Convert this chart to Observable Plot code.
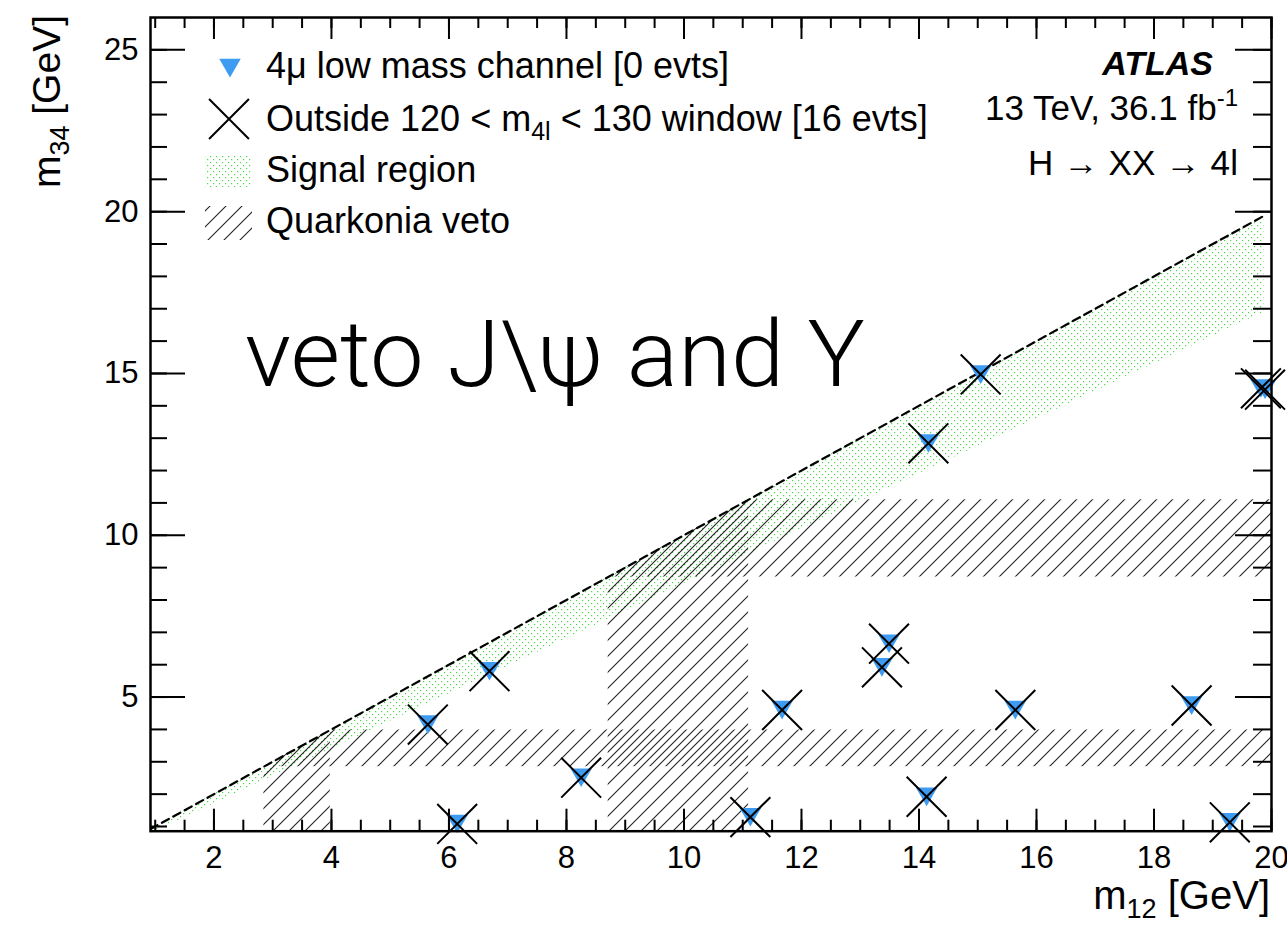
<!DOCTYPE html>
<html>
<head>
<meta charset="utf-8">
<script src="https://cdn.jsdelivr.net/npm/d3@7"></script>
<script src="https://cdn.jsdelivr.net/npm/@observablehq/plot@0.6"></script>
<style>
  html, body { margin: 0; padding: 0; background: #ffffff; }
  #chart { width: 1287px; height: 925px; }
</style>
</head>
<body>
<div id="chart"></div>
<script>
// ---------------- data ----------------
const eventM12 = [5.64, 6.14, 6.69, 8.25, 11.13, 11.67, 13.37, 13.49, 14.16, 14.13, 15.05, 15.64, 18.64, 19.29, 19.82, 19.89];
const eventM34 = [4.15, 1.08, 5.80, 2.51, 1.29, 4.60, 5.92, 6.65, 12.84, 1.92, 14.97, 4.60, 4.74, 1.13, 14.54, 14.50];
const jpsiVeto = [2.85, 3.98];          // GeV, applied to m12 and m34
const upsilonVeto = [8.71, 11.1];       // GeV, applied to m12 and m34
const signalRatio = 0.85;               // signal region: 0.85*m12 < m34 < m12
const signalEdgeM12 = [0.92, 19.87];    // extent of the signal-region histogram
const xMajorTicks = [2, 4, 6, 8, 10, 12, 14, 16, 18, 20];
const xMinorTicks = [1, 1.5, 2, 2.5, 3, 3.5, 4, 4.5, 5, 5.5, 6, 6.5, 7, 7.5, 8, 8.5, 9, 9.5, 10, 10.5, 11, 11.5, 12, 12.5, 13, 13.5, 14, 14.5, 15, 15.5, 16, 16.5, 17, 17.5, 18, 18.5, 19, 19.5, 20];
const yMajorTicks = [5, 10, 15, 20, 25];
const yMinorTicks = [1, 2, 3, 4, 5, 6, 7, 8, 9, 10, 11, 12, 13, 14, 15, 16, 17, 18, 19, 20, 21, 22, 23, 24, 25];
const xDomain = [0.92, 20];
const yDomain = [0.855, 26];

// ---------------- layout ----------------
const W = 1287, H = 925;
const mL = 150, mR = 16, mT = 17, mB = 94.3;
const iW = W - mL - mR, iH = H - mT - mB;
const FONT = "'Liberation Sans', Arial, Helvetica, sans-serif";
const BLUE = "#3d9cf2";

const events = eventM12.map((x, i) => ({m12: x, m34: eventM34[i]}));
const signal = signalEdgeM12.map(x => ({x, lo: signalRatio * x, hi: x}));
const diagonal = signalEdgeM12.map(v => ({x: v, y: v}));
const vBand = w => w.map(x => ({x, lo: yDomain[0], hi: x}));
const hBand = w => w.map(y => ({y, lo: y, hi: xDomain[1]}));

const tickStyle = {stroke: "#000", strokeWidth: 2};

const svgNode = Plot.plot({
  width: W, height: H,
  marginLeft: mL, marginRight: mR, marginTop: mT, marginBottom: mB,
  x: {domain: xDomain, axis: null, label: null},
  y: {domain: yDomain, axis: null, label: null},
  style: {fontFamily: FONT, fontSize: "31px", background: "#ffffff", color: "#000"},
  marks: [
    Plot.areaY(signal, {x: "x", y1: "lo", y2: "hi", fill: "url(#sigDots)", clip: true}),
    Plot.areaY(vBand(jpsiVeto), {x: "x", y1: "lo", y2: "hi", fill: "url(#hatchA)", clip: true}),
    Plot.areaY(vBand(upsilonVeto), {x: "x", y1: "lo", y2: "hi", fill: "url(#hatchA)", clip: true}),
    Plot.areaX(hBand(jpsiVeto), {y: "y", x1: "lo", x2: "hi", fill: "url(#hatchB)", clip: true}),
    Plot.areaX(hBand(upsilonVeto), {y: "y", x1: "lo", x2: "hi", fill: "url(#hatchB)", clip: true}),
    Plot.line(diagonal, {x: "x", y: "y", stroke: "#000", strokeWidth: 2.2, strokeDasharray: "8,5", clip: true}),
    Plot.dot(events, {x: "m12", y: "m34", symbol: "triangle", r: 8, rotate: 180, fill: BLUE, dy: -3}),
    Plot.dot(events, {x: "m12", y: "m34", symbol: "times", r: 18.2, stroke: "#000", strokeWidth: 2}),
    // ROOT-style inner ticks on all four sides
    Plot.tickX(xMinorTicks, {x: d => d, insetTop: iH - 11, ...tickStyle}),
    Plot.tickX(xMajorTicks, {x: d => d, insetTop: iH - 22, ...tickStyle}),
    Plot.tickX(xMinorTicks, {x: d => d, insetBottom: iH - 11, ...tickStyle}),
    Plot.tickX(xMajorTicks, {x: d => d, insetBottom: iH - 22, ...tickStyle}),
    Plot.tickY(yMinorTicks, {y: d => d, insetRight: iW - 17, ...tickStyle}),
    Plot.tickY(yMajorTicks, {y: d => d, insetRight: iW - 35, ...tickStyle}),
    Plot.tickY(yMinorTicks, {y: d => d, insetLeft: iW - 18, ...tickStyle}),
    Plot.tickY(yMajorTicks, {y: d => d, insetLeft: iW - 36, ...tickStyle}),
    Plot.frame({stroke: "#000", strokeWidth: 2.5}),
    Plot.axisX(xMajorTicks, {anchor: "bottom", tickSize: 0, tickPadding: 15, fontSize: 31, label: null}),
    Plot.axisY(yMajorTicks, {anchor: "left", tickSize: 0, tickPadding: 12, fontSize: 31, label: null})
  ]
});
document.getElementById("chart").appendChild(svgNode);

// ---------------- patterns ----------------
const svg = d3.select(svgNode);
const defs = svg.insert("defs", ":first-child");
function hatch(id, offset) {
  const p = defs.append("pattern").attr("id", id)
    .attr("patternUnits", "userSpaceOnUse").attr("width", 16).attr("height", 16)
    .attr("patternTransform", `translate(${offset},0)`);
  p.append("path").attr("d", "M-4,4L4,-4M0,16L16,0M12,20L20,12")
    .attr("stroke", "#222").attr("stroke-width", 1.1).attr("fill", "none");
}
hatch("hatchA", 0);
hatch("hatchB", 8);
const dots = defs.append("pattern").attr("id", "sigDots")
  .attr("patternUnits", "userSpaceOnUse").attr("width", 6).attr("height", 6);
dots.append("rect").attr("x", 0).attr("y", 0).attr("width", 1.2).attr("height", 1.2).attr("fill", "#4ad84a");
dots.append("rect").attr("x", 3).attr("y", 3).attr("width", 1.2).attr("height", 1.2).attr("fill", "#4ad84a");

// ---------------- annotations ----------------
const ann = svg.append("g").attr("font-family", FONT).attr("fill", "#000").attr("text-anchor", "start");

// legend
const triPath = d3.symbol(d3.symbolTriangle, Math.PI * 8 * 8)();
const xPath = d3.symbol(d3.symbolTimes, Math.PI * 18.2 * 18.2)();
ann.append("path").attr("d", triPath).attr("fill", BLUE).attr("transform", "translate(230,65) rotate(180)");
ann.append("path").attr("d", xPath).attr("fill", "none").attr("stroke", "#000").attr("stroke-width", 2).attr("transform", "translate(229,119)");
ann.append("rect").attr("x", 205).attr("y", 155).attr("width", 47).attr("height", 32).attr("fill", "url(#sigDots)");
ann.append("rect").attr("x", 205).attr("y", 206).attr("width", 47).attr("height", 34).attr("fill", "url(#hatchA)");

const LFS = 36;
ann.append("text").attr("x", 266).attr("y", 78).attr("font-size", LFS).text("4μ low mass channel [0 evts]");
{
  const t = ann.append("text").attr("x", 266).attr("y", 131).attr("font-size", LFS);
  t.append("tspan").text("Outside 120 < m");
  t.append("tspan").attr("font-size", 25).attr("dy", 9).text("4l");
  t.append("tspan").attr("dy", -9).text(" < 130 window [16 evts]");
}
ann.append("text").attr("x", 266).attr("y", 182).attr("font-size", LFS).text("Signal region");
ann.append("text").attr("x", 266).attr("y", 233).attr("font-size", LFS).text("Quarkonia veto");

// ATLAS label block
ann.append("text").attr("x", 1213).attr("y", 75).attr("text-anchor", "end")
  .attr("font-size", 34).attr("font-weight", "bold").attr("font-style", "italic").text("ATLAS");
{
  const t = ann.append("text").attr("x", 1238).attr("y", 120).attr("text-anchor", "end").attr("font-size", 35);
  t.append("tspan").text("13 TeV, 36.1 fb");
  t.append("tspan").attr("font-size", 24).attr("dy", -14).text("-1");
}
ann.append("text").attr("x", 1028).attr("y", 175).attr("font-size", 35)
  .attr("textLength", 210).attr("lengthAdjust", "spacing")
  .text("H → XX → 4l");

// axis titles
{
  const t = ann.append("text").attr("x", 1270).attr("y", 909).attr("text-anchor", "end").attr("font-size", 40);
  t.append("tspan").text("m");
  t.append("tspan").attr("font-size", 27).attr("dy", 9).text("12");
  t.append("tspan").attr("dy", -9).text(" [GeV]");
}
{
  const t = ann.append("text").attr("transform", "translate(60,15) rotate(-90)").attr("text-anchor", "end").attr("font-size", 39);
  t.append("tspan").text("m");
  t.append("tspan").attr("font-size", 27).attr("dy", 9).text("34");
  t.append("tspan").attr("dy", -9).text(" [GeV]");
}

// big annotation
ann.append("text").attr("x", 245).attr("y", 386)
  .attr("font-family", "Roboto, 'Open Sans', Lato, sans-serif").attr("font-weight", 300)
  .attr("font-size", 92).attr("textLength", 620).attr("lengthAdjust", "spacingAndGlyphs")
  .text("veto J\\ψ and Y");
</script>
</body>
</html>
